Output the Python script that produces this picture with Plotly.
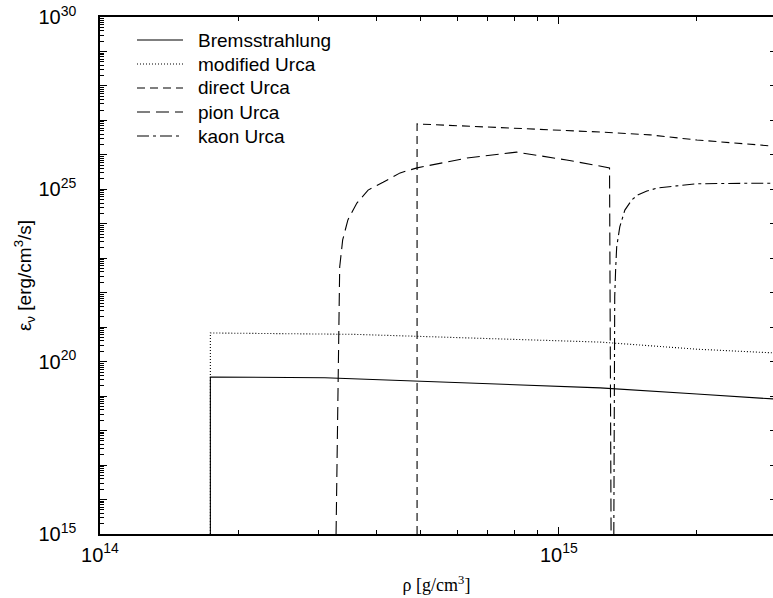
import math
import plotly.graph_objects as go

# ---------------- data ----------------
brems_rho = [1.74e14, 1.74e14, 3.09e14, 4.18e14, 1.23e15, 2.0e15, 2.93e15]
brems_eps = [1e15, 3.6e19, 3.4e19, 2.95e19, 1.74e19, 1.15e19, 8.3e18]

murca_rho = [1.74e14, 1.74e14, 3.6e14, 1.23e15, 2.0e15, 2.93e15]
murca_eps = [1e15, 6.8e20, 6.2e20, 3.7e20, 2.3e20, 1.8e20]

durca_rho = [4.91e14, 4.91e14, 1.23e15, 1.58e15, 2.0e15, 2.93e15]
durca_eps = [1e15, 7.9e26, 4.6e26, 3.8e26, 2.7e26, 1.8e26]

pion_rho = [3.27e14, 3.32e14, 3.33e14, 3.38e14, 3.47e14, 3.63e14, 3.84e14, 4.14e14,
            4.51e14, 4.91e14, 5.65e14, 6.31e14, 8.09e14, 1.04e15, 1.29e15, 1.30e15]
pion_eps = [1e15, 1.4e22, 5.6e22, 3.4e23, 1.3e24, 4.0e24, 9.5e24, 1.6e25,
            3.0e25, 4.2e25, 6.2e25, 8.1e25, 1.2e26, 7.1e25, 4.2e25, 1e15]

kaon_rho = [1.318e15, 1.324e15, 1.33e15, 1.337e15, 1.358e15, 1.393e15, 1.442e15,
            1.486e15, 1.556e15, 1.644e15, 1.807e15, 2.0e15, 2.61e15, 2.93e15]
kaon_eps = [1e15, 7.6e21, 4.6e22, 2.1e23, 8.1e23, 2.5e24, 4.9e24,
            6.9e24, 8.9e24, 1.1e25, 1.26e25, 1.45e25, 1.5e25, 1.5e25]

names = ["Bremsstrahlung", "modified Urca", "direct Urca", "pion Urca", "kaon Urca"]
dashes = ["solid", "1px,2px", "8px,5px", "13px,6px", "12px,4px,3px,4px"]

x_ticks = [1e14, 1e15]
x_ticktext = ["10<sup>14</sup>", "10<sup>15</sup>"]
y_ticks = [1e15, 1e20, 1e25, 1e30]
y_ticktext = ["10<sup>15</sup>", "10<sup>20</sup>", "10<sup>25</sup>", "10<sup>30</sup>"]
y_decades = [10.0 ** e for e in range(15, 31)]

x_minor = [m * 10.0 ** e for e in (14, 15) for m in range(2, 10)]
y_minor = [m * 10.0 ** e for e in range(15, 30) for m in range(2, 10)]

# ---------------- figure ----------------
W, H = 773, 598
ML, MR, MT, MB = 100, 0, 17, 64
SANS = "Liberation Sans, Arial, Helvetica, sans-serif"
SERIF = "Liberation Serif, Times New Roman, serif"

fig = go.Figure()
series = [(brems_rho, brems_eps), (murca_rho, murca_eps), (durca_rho, durca_eps),
          (pion_rho, pion_eps), (kaon_rho, kaon_eps)]
for (rx, ey), nm, ds in zip(series, names, dashes):
    fig.add_trace(go.Scatter(x=rx, y=ey, mode="lines", name=nm, showlegend=False,
                             line=dict(color="black", width=1.1, dash=ds)))
# invisible carriers so the extra tick-only axes get drawn
for ax in ("y2", "y3"):
    fig.add_trace(go.Scatter(x=brems_rho, y=brems_eps, mode="lines", yaxis=ax,
                             showlegend=False, hoverinfo="skip", opacity=0,
                             line=dict(color="black", width=1)))

fig.update_layout(
    width=W, height=H, margin=dict(l=ML, r=MR, t=MT, b=MB),
    paper_bgcolor="white", plot_bgcolor="white", showlegend=False,
    font=dict(family=SANS, color="black"),
    xaxis=dict(type="log", range=[14, math.log10(2.93e15)],
               tickmode="array", tickvals=x_ticks, ticktext=x_ticktext,
               ticks="inside", ticklen=7, tickwidth=1, tickcolor="black",
               showline=True, linecolor="black", linewidth=1.5, mirror="ticks",
               showgrid=False, zeroline=False,
               minor=dict(tickmode="array", tickvals=x_minor, ticks="inside",
                          ticklen=4, tickcolor="black", showgrid=False),
               tickfont=dict(family=SANS, size=20, color="black"),
               ticklabelstandoff=2,
               title=dict(text="ρ [g/cm<sup>3</sup>]", standoff=14,
                          font=dict(family=SERIF, size=18, color="black"))),
    yaxis=dict(type="log", range=[15, 30],
               tickmode="array", tickvals=y_ticks, ticktext=y_ticktext,
               ticks="inside", ticklen=7, tickwidth=1, tickcolor="black",
               showline=True, linecolor="black", linewidth=1.5, mirror=False,
               showgrid=False, zeroline=False,
               minor=dict(tickmode="array", tickvals=y_minor, ticks="inside",
                          ticklen=4, tickcolor="black", showgrid=False),
               tickfont=dict(family=SANS, size=20, color="black"),
               ticklabelstandoff=18,
               title=dict(text="ε<sub>ν</sub> [erg/cm<sup>3</sup>/s]", standoff=2,
                          font=dict(family=SANS, size=19, color="black"))),
    yaxis2=dict(type="log", range=[15, 30], overlaying="y", side="right",
                tickmode="array", tickvals=y_decades, showticklabels=False,
                ticks="inside", ticklen=3, tickcolor="black",
                showline=False, showgrid=False, zeroline=False),
    yaxis3=dict(type="log", range=[15, 30], overlaying="y", side="left",
                tickmode="array", tickvals=y_decades, showticklabels=False,
                ticks="inside", ticklen=7, tickcolor="black",
                showline=False, showgrid=False, zeroline=False),
)

# ---------------- legend (drawn as keys + labels) ----------------
pw, ph = W - ML - MR, H - MT - MB
def px2x(p):
    return (p - ML) / pw
def py2y(p):
    return (H - MB - p) / ph

row_y = [40, 64, 88, 112, 136]
for nm, ds, ry in zip(names, dashes, row_y):
    fig.add_shape(type="line", xref="paper", yref="paper",
                  x0=px2x(137), x1=px2x(183), y0=py2y(ry), y1=py2y(ry),
                  line=dict(color="black", width=1.1, dash=ds))
    fig.add_annotation(xref="paper", yref="paper", x=px2x(196), y=py2y(ry),
                       xanchor="left", yanchor="middle", showarrow=False,
                       text=nm, font=dict(family=SANS, size=19, color="black"))

fig.write_html("out.html")
